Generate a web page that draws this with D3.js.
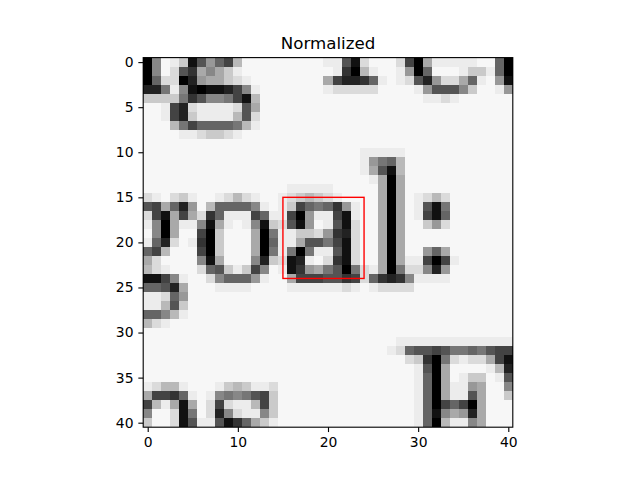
<!DOCTYPE html>
<html>
<head>
<meta charset="utf-8">
<script src="https://cdn.jsdelivr.net/npm/d3@7"></script>
<style>
  body { margin: 0; background: #fff; }
  svg { display: block; }
  text { font-family: "DejaVu Sans", sans-serif; }
</style>
</head>
<body>
<div id="chart"></div>
<script>
// Pixel levels of the 41x41 patch, one hex digit per pixel (0 = black, f = near white).
// Each row is split in three parts: cols 0-13, 14-27, 28-40.
const pixelRows = [
  "08fec15964bfff" + "ffffffee51dfff" + "d40aeeeeeff60",
  "08fd53a8acefff" + "fffffffe30beff" + "e906fffecce60",
  "06dd029aacdeff" + "ffffffa42236ef" + "ed529dda6ef91",
  "227e81011248ef" + "ffffffedddddff" + "ffe95558cffe9",
  "cccc73588741bf" + "ffffffffffffff" + "fffeedeffffff",
  "ffe42deeeed5af" + "ffffffffffffff" + "fffffffffffff",
  "ffe42ceeeeb5df" + "ffffffffffffff" + "fffffffffffff",
  "fffb7466667bef" + "ffffffffffffff" + "fffffffffffff",
  "ffffeedccdefff" + "ffffffffffffff" + "fffffffffffff",
  "ffffffffffffff" + "ffffffffffffff" + "fffffffffffff",
  "ffffffffffffff" + "ffffffffffeeee" + "effffffffffff",
  "ffffffffffffff" + "ffffffffffe976" + "bffffffffffff",
  "ffffffffffffff" + "ffffffffffea51" + "bffffffffffff",
  "ffffffffffffff" + "fffffffffffea0" + "affffffffffff",
  "ffffffffffffff" + "ffeeeeefffffa0" + "affffffffffff",
  "defdceffedbdef" + "fedcbcdeffffa0" + "afedbdfffffff",
  "54a629fb66668e" + "fec467639effa0" + "afe517fffffff",
  "d41a4ad36eee46" + "ee409ee41effa0" + "afe416fffffff",
  "e80aee81aefe81" + "cd519fe51dffa0" + "affc9dfffffff",
  "f80aff40cfffa0" + "7eeccd932dffa0" + "affffffffffff",
  "e62dfe30cfffa0" + "6eea55741dffa0" + "affffffffffff",
  "64bfff40cfffa0" + "7e707ee51dffa0" + "aff96afffffff",
  "adffff81afff82" + "cd12efd31dffa0" + "aee404effffff",
  "bdefffd65cec48" + "fe139a7507dea0" + "7dd829fffffff",
  "1148effd86669e" + "ffa4445534d632" + "38eeeefffffff",
  "6652afffeeeeff" + "ffeeeeeedefedd" + "ddfffffffffff",
  "eed69fffffffff" + "ffffffffffffff" + "fffffffffffff",
  "eeb5cfffffffff" + "ffffffffffffff" + "fffffffffffff",
  "668befffffffff" + "ffffffffffffff" + "fffffffffffff",
  "bdefffffffffff" + "ffffffffffffff" + "fffffffffffff",
  "ffffffffffffff" + "ffffffffffffff" + "fffffffffffff",
  "ffffffffffffff" + "ffffffffffffff" + "eeeeeeeeeeeee",
  "ffffffffffffff" + "fffffffffffffe" + "d655457767544",
  "ffffffffffffff" + "ffffffffffffff" + "fdc307dedda41",
  "ffffffffffffff" + "ffffffffffffff" + "ffe50affffeb2",
  "ffffffffffffff" + "ffffffffffffff" + "ffe60afeccfe5",
  "edbbefffecbcee" + "dfffffffffffff" + "ffe60aee9aff8",
  "a4436efe878754" + "cfffffffffffff" + "ffe60aee5affc",
  "4bea1afd4deeb4" + "cfffffffffffff" + "ffe604640afff",
  "8ffd17fd28dee8" + "cfffffffffffff" + "ffe618a92afff",
  "cffd15ee5136ac" + "efffffffffffff" + "ffe60bee8afff"
]

const chartTitle = "Normalized"
const xTicks = [0, 10, 20, 30, 40]
const yTicks = [0, 5, 10, 15, 20, 25, 30, 35, 40]
const boxCorner = [15, 15]   // x, y of the red box (data coords)
const boxSize = [9, 9]       // width, height

// Figure geometry (matplotlib defaults, square axes)
const width = 640
const height = 480
const axLeft = 143.2, axTop = 57.6, axSize = 369.6
const tickLen = 4.86
const nCols = pixelRows[0].length
const nRows = pixelRows.length

let svg = d3.select("#chart")
    .append("svg")
    .attr("width", width)
    .attr("height", height)

const x = d3.scaleLinear().domain([-0.5, nCols - 0.5]).range([axLeft, axLeft + axSize])
const y = d3.scaleLinear().domain([-0.5, nRows - 0.5]).range([axTop, axTop + axSize])
const shade = d3.scaleLinear().domain([0, 14, 15]).range([0, 236, 247]).clamp(true)

// Flatten the rows into cells
const cells = []
pixelRows.forEach((row, r) => {
    row.split("").forEach((ch, c) => {
        cells.push({ r: r, c: c, v: parseInt(ch, 16) })
    })
})

// Draw image cells
svg.append("g")
    .attr("id", "image")
    .attr("shape-rendering", "crispEdges")
    .selectAll("rect")
    .data(cells)
    .enter()
    .append("rect")
    .attr("x", d => x(d.c - 0.5))
    .attr("y", d => y(d.r - 0.5))
    .attr("width", d => x(d.c + 0.5) - x(d.c - 0.5))
    .attr("height", d => y(d.r + 0.5) - y(d.r - 0.5))
    .attr("fill", d => { const g = Math.round(shade(d.v)); return d3.rgb(g, g, g) })

// Red box
svg.append("rect")
    .attr("x", x(boxCorner[0]))
    .attr("y", y(boxCorner[1]))
    .attr("width", x(boxCorner[0] + boxSize[0]) - x(boxCorner[0]))
    .attr("height", y(boxCorner[1] + boxSize[1]) - y(boxCorner[1]))
    .attr("fill", "none")
    .attr("stroke", "red")
    .attr("stroke-width", 1.39)

// Axes
let xAxis = svg.append("g")
    .attr("transform", `translate(0,${axTop + axSize})`)
    .call(d3.axisBottom(x).tickValues(xTicks).tickSize(tickLen).tickPadding(4.86))
let yAxis = svg.append("g")
    .attr("transform", `translate(${axLeft},0)`)
    .call(d3.axisLeft(y).tickValues(yTicks).tickSize(tickLen).tickPadding(4.86))

;[xAxis, yAxis].forEach(a => {
    a.select(".domain").remove()
    a.selectAll("line").attr("stroke", "#000").attr("stroke-width", 1.11)
    a.selectAll("text")
        .attr("fill", "#000")
        .style("font-size", "13.9px")
        .style("font-family", "'DejaVu Sans', sans-serif")
})

// Spines
svg.append("rect")
    .attr("x", axLeft)
    .attr("y", axTop)
    .attr("width", axSize)
    .attr("height", axSize)
    .attr("fill", "none")
    .attr("stroke", "#000")
    .attr("stroke-width", 1.11)

// Title
svg.append("text")
    .attr("x", axLeft + axSize / 2)
    .attr("y", axTop - 8.3)
    .attr("text-anchor", "middle")
    .style("font-size", "16.67px")
    .text(chartTitle)
</script>
</body>
</html>
